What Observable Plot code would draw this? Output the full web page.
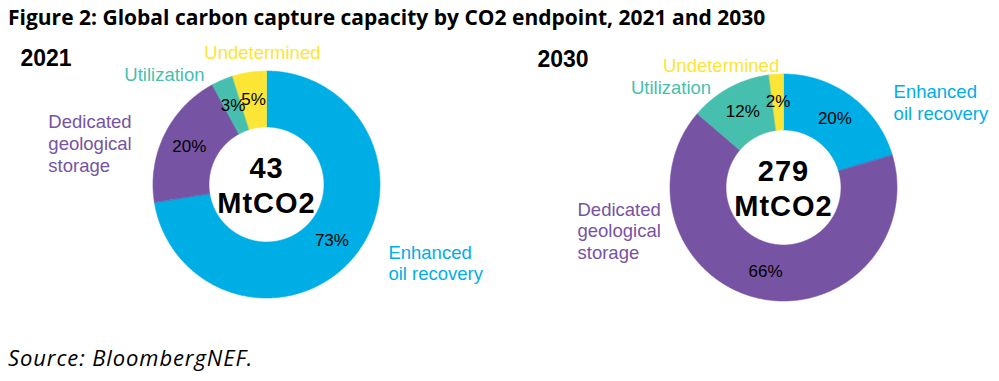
<!DOCTYPE html>
<html><head><meta charset="utf-8">
<script src="https://cdn.jsdelivr.net/npm/d3@7"></script>
<script src="https://cdn.jsdelivr.net/npm/@observablehq/plot@0.6"></script>
<style>
body{margin:0;background:#fff;width:999px;height:381px;overflow:hidden;position:relative}
#title{position:absolute;left:8px;top:0;font-family:"Open Sans";font-weight:700;font-size:21px;line-height:34px;white-space:nowrap;color:#000}
#chart{position:absolute;left:0;top:36px}
#caption{position:absolute;left:8px;top:342px;font-family:"Open Sans";font-style:italic;font-size:22px;letter-spacing:0.9px;line-height:30px;white-space:nowrap;color:#000}
</style></head><body>
<div id="title">Figure 2: Global carbon capture capacity by CO2 endpoint, 2021 and 2030</div>
<div id="chart"></div>
<div id="caption">Source: BloombergNEF.</div>
<script>
// ---- data ----
const categories = ["Enhanced oil recovery", "Dedicated geological storage", "Utilization", "Undetermined"];
const categoryLabels = ["Enhanced\noil recovery", "Dedicated\ngeological\nstorage", "Utilization", "Undetermined"];
const colors = ["#00AEE6", "#7753A3", "#47BFAE", "#FCE535"];
const years = ["2021", "2030"];
const totals = [43, 279];
const totalUnit = "MtCO2";
const shares2021 = [72.5, 19.6, 3.1, 4.8];
const shares2030 = [20.4, 65.9, 11.7, 2.0];

// ---- layout (pixels) ----
const W = 999, H = 300;
const centers = [{cx: 266, cy: 148}, {cx: 783, cy: 151}];
const rOut = 113.5, rIn = 57.5, rPct = 86, rLab = 134;
// label nudges from the radial anchor point [dx, dy, textAnchor]
const labelNudges = [
  [[20, -9, "start"], [-98, 18, "start"], [-50, 13, "middle"], [16, 0, "middle"]],
  [[30, 22, "start"], [-178, -88, "start"], [-49, 18, "middle"], [-54, 11, "middle"]]
];

const sharesByYear = [shares2021, shares2030];
const pie = d3.pie().sort(null).value(d => d);

const polys = [], pcts = [], labels = [], centerText = [], yearText = [];
sharesByYear.forEach((shares, yi) => {
  const {cx, cy} = centers[yi];
  const arcs = pie(shares);
  arcs.forEach((a, i) => {
    const id = years[yi] + "-" + i;
    const n = Math.max(4, Math.ceil((a.endAngle - a.startAngle) / 0.01));
    for (let k = 0; k <= n; k++) {
      const t = a.startAngle + (a.endAngle - a.startAngle) * k / n;
      polys.push({id, cat: categories[i], x: cx + rOut * Math.sin(t), y: cy - rOut * Math.cos(t)});
    }
    for (let k = n; k >= 0; k--) {
      const t = a.startAngle + (a.endAngle - a.startAngle) * k / n;
      polys.push({id, cat: categories[i], x: cx + rIn * Math.sin(t), y: cy - rIn * Math.cos(t)});
    }
    const m = (a.startAngle + a.endAngle) / 2;
    pcts.push({x: cx + rPct * Math.sin(m), y: cy - rPct * Math.cos(m), text: Math.round(a.data) + "%"});
    const [dx, dy, anchor] = labelNudges[yi][i];
    labels.push({x: cx + rLab * Math.sin(m) + dx, y: cy - rLab * Math.cos(m) + dy,
                 text: categoryLabels[i], cat: categories[i], anchor});
  });
  centerText.push({x: cx, y: cy, text: totals[yi] + "\n" + totalUnit});
  yearText.push({x: cx - 246, y: cy - 119 + (yi ? -2 : 0), text: years[yi]});
});

const font = "Liberation Sans, Arial, sans-serif";
const plot = Plot.plot({
  width: W, height: H,
  margin: 0,
  x: {domain: [0, W], range: [0, W], axis: null},
  y: {domain: [0, H], range: [0, H], axis: null},
  color: {domain: categories, range: colors},
  style: {overflow: "visible"},
  marks: [
    Plot.line(polys, {x: "x", y: "y", z: "id", fill: "cat", stroke: "cat", strokeWidth: 0.6, curve: "linear-closed"}),
    Plot.text(pcts, {x: "x", y: "y", text: "text", fill: "#000", fontSize: 17, fontFamily: font, lineAnchor: "middle"}),
    Plot.text(labels.filter(d => d.anchor === "start"), {x: "x", y: "y", text: "text", fill: "cat", fontSize: 18.5, fontFamily: font, lineAnchor: "middle", textAnchor: "start", lineHeight: 1.17}),
    Plot.text(labels.filter(d => d.anchor === "middle"), {x: "x", y: "y", text: "text", fill: "cat", fontSize: 18.5, fontFamily: font, lineAnchor: "middle", textAnchor: "middle", lineHeight: 1.17}),
    Plot.text(centerText, {x: "x", y: "y", text: "text", fill: "#000", fontSize: 29, fontWeight: "bold", fontFamily: font, lineAnchor: "middle", lineHeight: 1.2, style: "letter-spacing:1px"}),
    Plot.text(yearText, {x: "x", y: "y", text: "text", fill: "#000", fontSize: 23, fontWeight: "bold", fontFamily: font, lineAnchor: "bottom", textAnchor: "start"})
  ]
});
plot.querySelectorAll("text").forEach(t => { if (t.textContent.includes("MtCO2")) t.setAttribute("letter-spacing", "1"); });
document.getElementById("chart").appendChild(plot);
</script>
</body></html>
